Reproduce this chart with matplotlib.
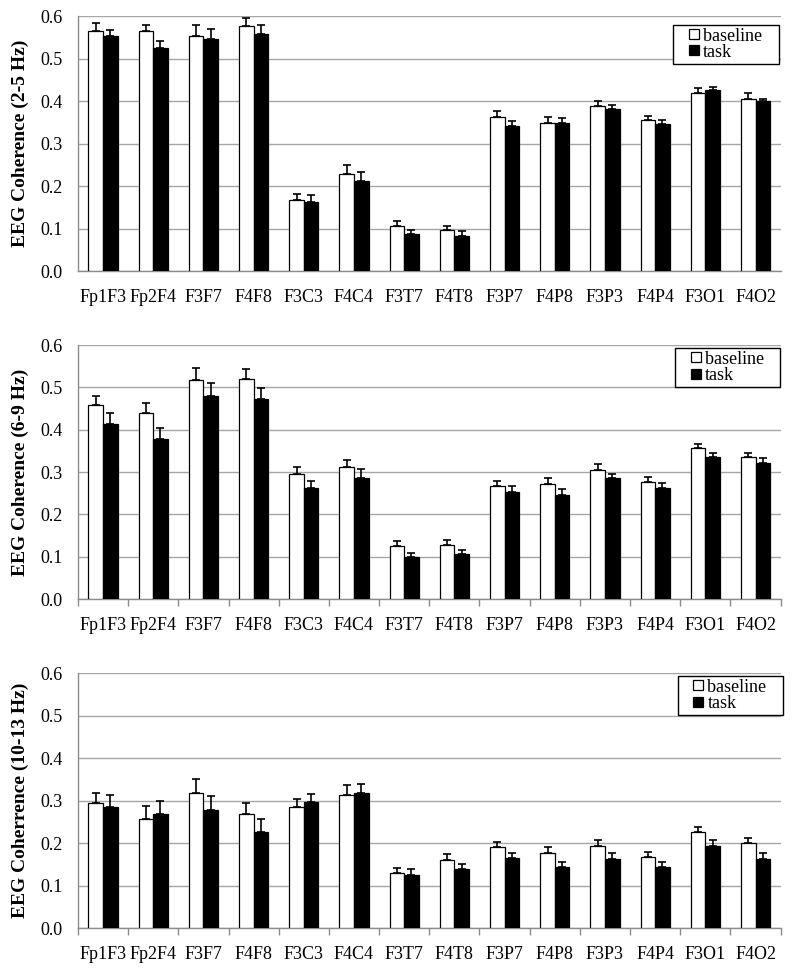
import matplotlib.pyplot as plt
from matplotlib.lines import Line2D
import numpy as np

pairs = ['Fp1F3', 'Fp2F4', 'F3F7', 'F4F8', 'F3C3', 'F4C4', 'F3T7', 'F4T8',
         'F3P7', 'F4P8', 'F3P3', 'F4P4', 'F3O1', 'F4O2']

# 2-5 Hz
base_1 = [0.566, 0.565, 0.554, 0.576, 0.168, 0.228, 0.106, 0.097, 0.363, 0.348, 0.388, 0.355, 0.418, 0.405]
base_1_err = [0.017, 0.015, 0.025, 0.019, 0.014, 0.022, 0.011, 0.010, 0.014, 0.015, 0.012, 0.011, 0.012, 0.013]
task_1 = [0.553, 0.524, 0.547, 0.558, 0.162, 0.212, 0.087, 0.083, 0.342, 0.348, 0.381, 0.345, 0.425, 0.399]
task_1_err = [0.014, 0.017, 0.023, 0.020, 0.016, 0.022, 0.010, 0.011, 0.012, 0.011, 0.009, 0.011, 0.008, 0.007]

# 6-9 Hz
base_2 = [0.458, 0.440, 0.517, 0.519, 0.296, 0.311, 0.125, 0.127, 0.267, 0.272, 0.304, 0.277, 0.357, 0.336]
base_2_err = [0.022, 0.023, 0.028, 0.024, 0.017, 0.018, 0.012, 0.013, 0.013, 0.013, 0.014, 0.012, 0.010, 0.010]
task_2 = [0.413, 0.378, 0.480, 0.473, 0.263, 0.285, 0.099, 0.106, 0.254, 0.245, 0.285, 0.262, 0.336, 0.322]
task_2_err = [0.026, 0.027, 0.030, 0.026, 0.015, 0.022, 0.009, 0.010, 0.013, 0.014, 0.011, 0.012, 0.009, 0.011]

# 10-13 Hz
base_3 = [0.293, 0.257, 0.318, 0.269, 0.284, 0.312, 0.129, 0.160, 0.190, 0.176, 0.193, 0.167, 0.225, 0.200]
base_3_err = [0.025, 0.031, 0.033, 0.025, 0.019, 0.024, 0.012, 0.014, 0.013, 0.014, 0.013, 0.013, 0.013, 0.012]
task_3 = [0.285, 0.268, 0.277, 0.227, 0.296, 0.317, 0.125, 0.138, 0.164, 0.143, 0.162, 0.143, 0.194, 0.162]
task_3_err = [0.029, 0.030, 0.034, 0.029, 0.020, 0.021, 0.013, 0.013, 0.013, 0.012, 0.014, 0.013, 0.013, 0.014]

y_labels = ['EEG Coherence (2-5 Hz)', 'EEG Coherence (6-9 Hz)', 'EEG Coherrence (10-13 Hz)']
legend_labels = ['baseline', 'task']

plt.rcParams['font.family'] = ['Liberation Serif', 'DejaVu Serif']

fig = plt.figure(figsize=(7.95, 9.75), dpi=100)


def panel(rect, base, base_err, task, task_err, y_label, legend_anchor, show_ticks):
    ax = fig.add_axes(rect)
    x = np.arange(len(pairs))
    w = 0.29
    ax.bar(x - w / 2, base, w, color='white', edgecolor='black', linewidth=0.9, zorder=3)
    ax.bar(x + w / 2, task, w, color='black', edgecolor='black', linewidth=0.9, zorder=3)
    ax.errorbar(x - w / 2, base, yerr=[np.zeros(len(base)), base_err], fmt='none',
                ecolor='black', elinewidth=1.2, capsize=2.6, capthick=1.2, zorder=4)
    ax.errorbar(x + w / 2, task, yerr=[np.zeros(len(task)), task_err], fmt='none',
                ecolor='black', elinewidth=1.2, capsize=2.6, capthick=1.2, zorder=4)

    ax.set_xlim(-0.5, len(pairs) - 0.5)
    ax.set_ylim(0, 0.6)
    ax.set_yticks(np.arange(0, 0.61, 0.1))
    ax.set_yticklabels(['%.1f' % v for v in np.arange(0, 0.61, 0.1)], fontsize=13)
    ax.yaxis.grid(True, color='#a6a6a6', linewidth=1.0, zorder=0)
    ax.set_axisbelow(True)
    ax.tick_params(axis='y', length=0, pad=11)

    ax.set_xticks(x)
    ax.set_xticklabels(pairs, fontsize=13)
    ax.tick_params(axis='x', length=0, pad=13)
    if show_ticks:
        ax.set_xticks(np.arange(-0.5, len(pairs)), minor=True)
        ax.tick_params(axis='x', which='minor', length=5, color='#8c8c8c', width=1)

    for s in ['top', 'right']:
        ax.spines[s].set_visible(False)
    for s in ['left', 'bottom']:
        ax.spines[s].set_color('#8c8c8c')
        ax.spines[s].set_linewidth(1.0)

    ax.set_ylabel(y_label, fontsize=14, fontweight='bold')
    ax.yaxis.set_label_coords(-0.07, 0.5)

    handles = [Line2D([], [], linestyle='none', marker='s', markersize=7.5,
                      markerfacecolor='white', markeredgecolor='black', markeredgewidth=0.9),
               Line2D([], [], linestyle='none', marker='s', markersize=7.5,
                      markerfacecolor='black', markeredgecolor='black', markeredgewidth=0.9)]
    labels = [legend_labels[0] + '   ', legend_labels[1]]
    leg = ax.legend(handles, labels, loc='upper right', bbox_to_anchor=legend_anchor, fontsize=13,
                    handlelength=2.0, handletextpad=-0.5,
                    labelspacing=-0.05, borderpad=0.15, borderaxespad=0,
                    fancybox=False, framealpha=1, edgecolor='black')
    leg.get_frame().set_linewidth(1.0)
    return ax


panel([0.098, 0.722, 0.884, 0.2615], base_1, base_1_err, task_1, task_1_err, y_labels[0], (0.997, 0.965), False)
panel([0.098, 0.3856, 0.884, 0.2605], base_2, base_2_err, task_2, task_2_err, y_labels[1], (0.999, 0.988), True)
panel([0.098, 0.0482, 0.884, 0.2615], base_3, base_3_err, task_3, task_3_err, y_labels[2], (1.003, 0.988), True)

fig.savefig('out.png', dpi=100)
